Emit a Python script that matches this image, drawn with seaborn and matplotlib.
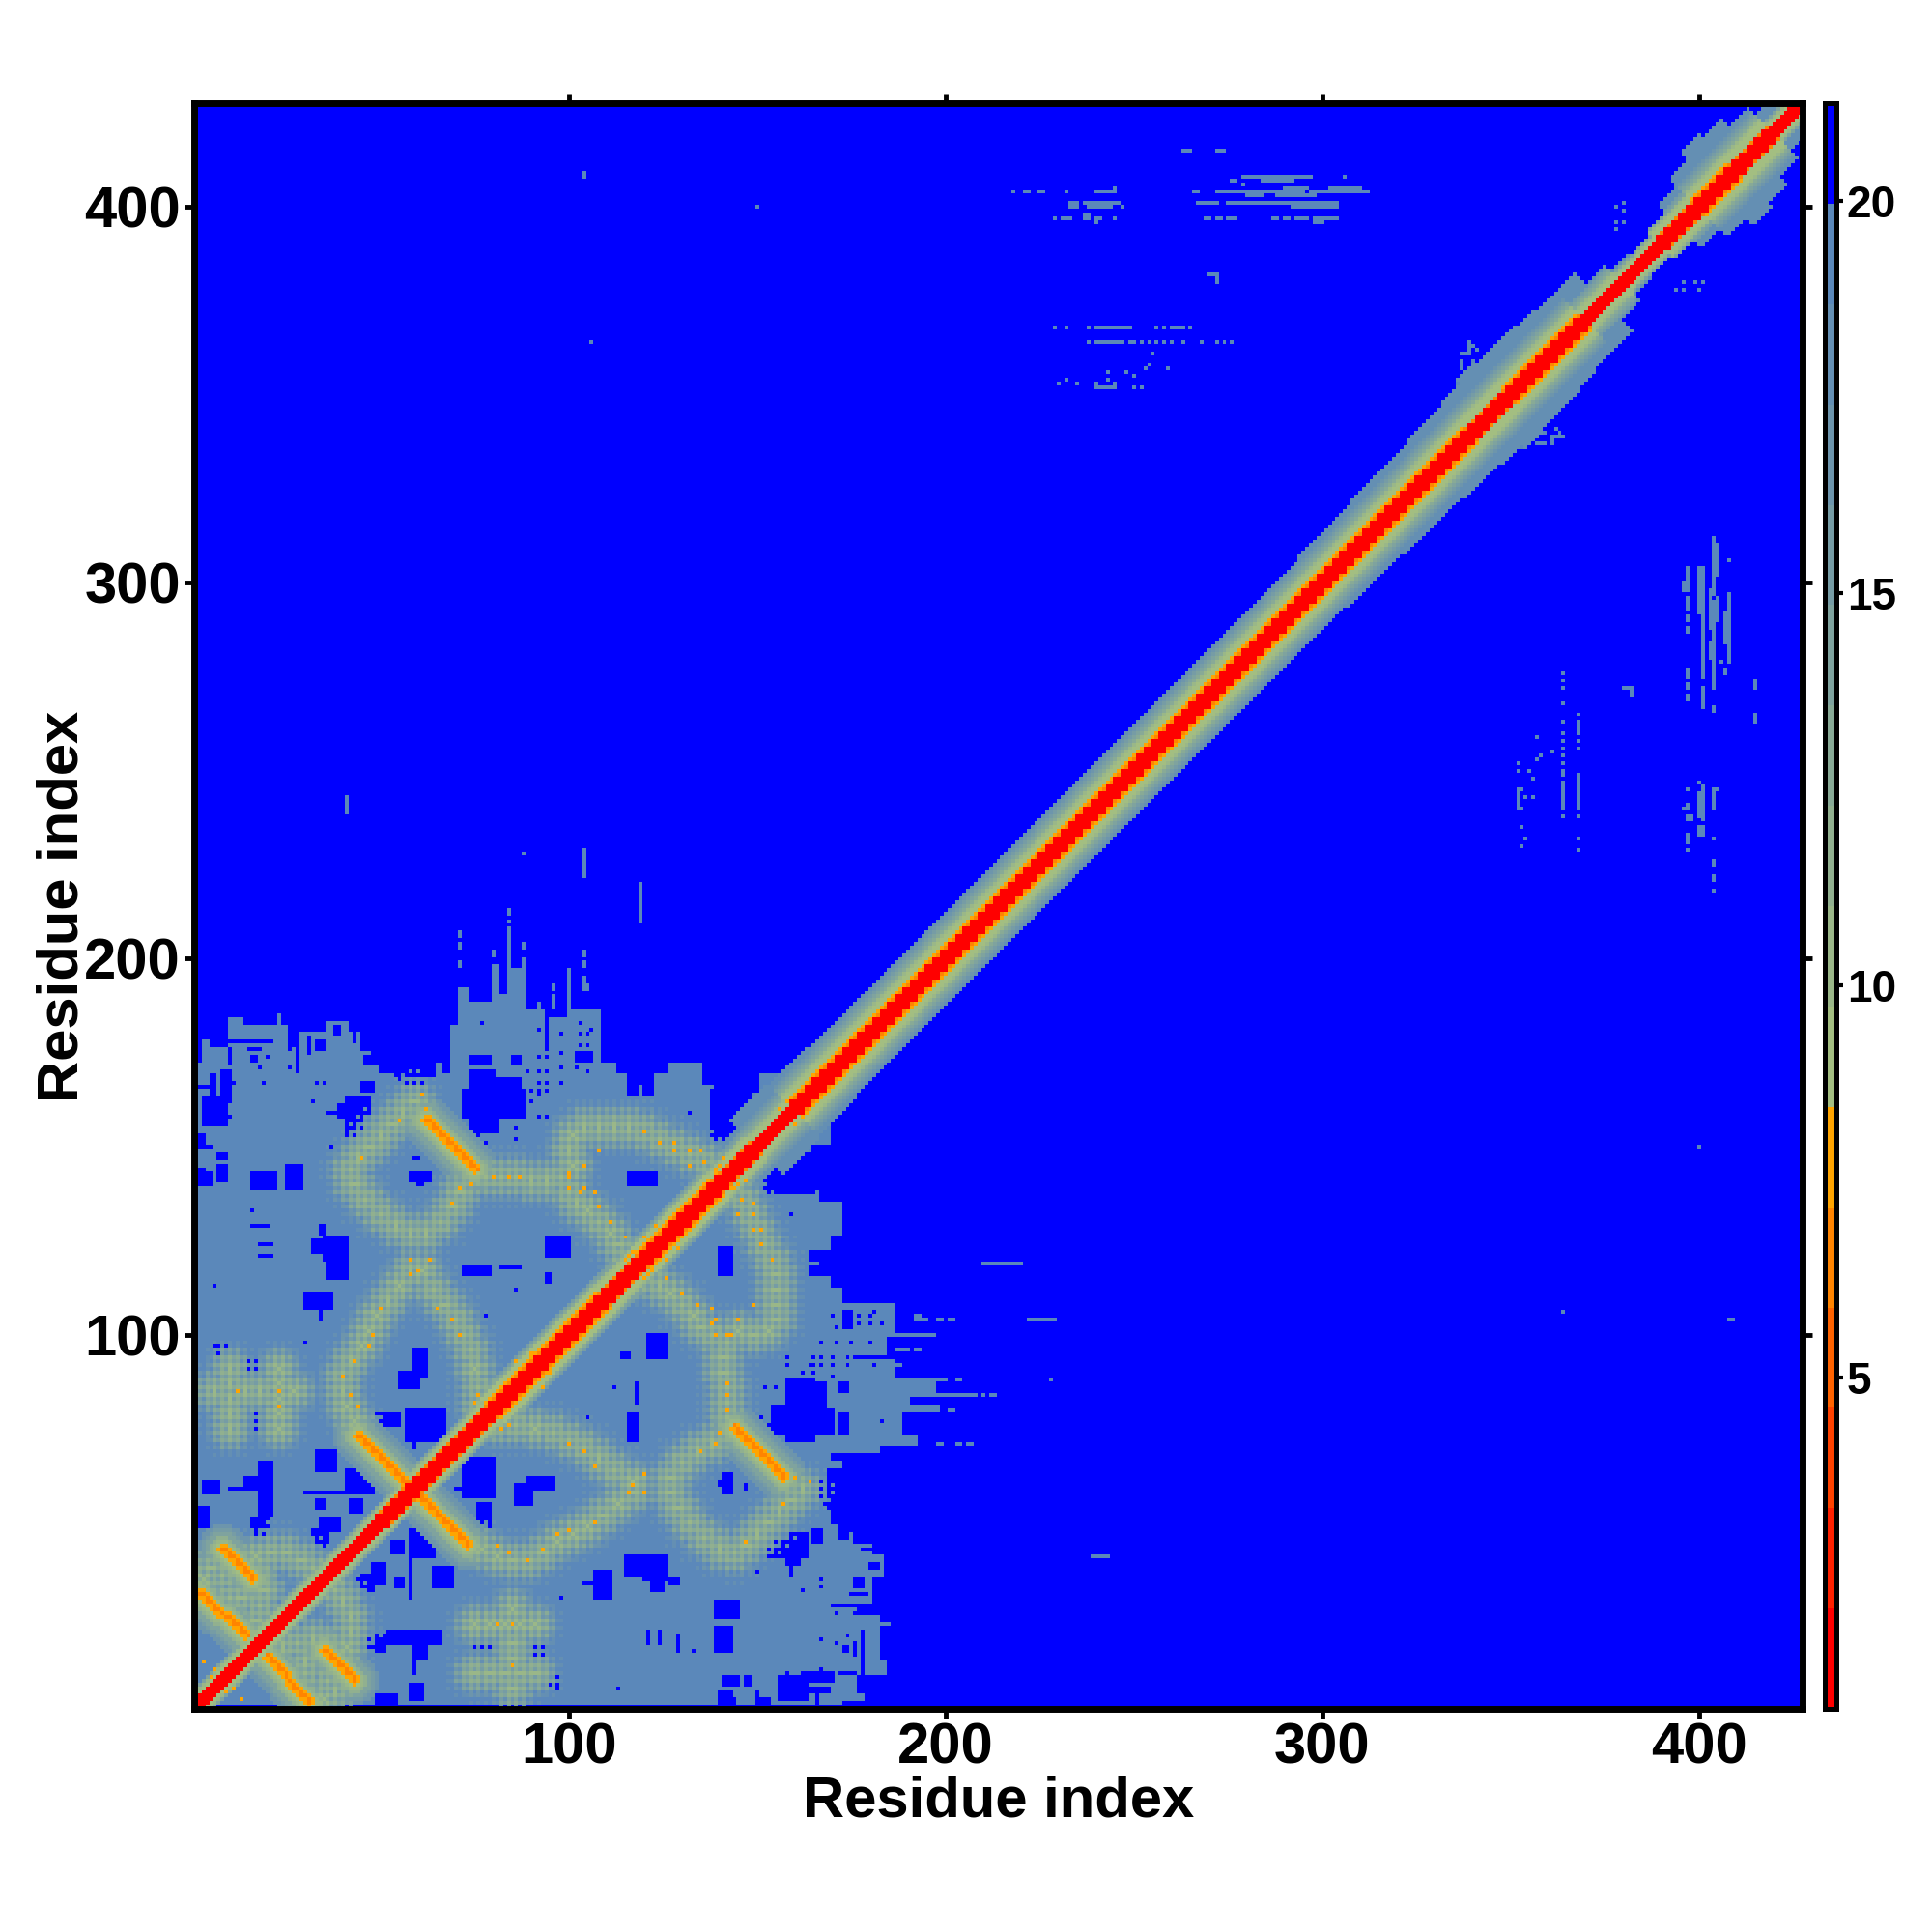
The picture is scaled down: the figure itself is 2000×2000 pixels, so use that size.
import numpy as np
import matplotlib
matplotlib.use('Agg')
import matplotlib.pyplot as plt
from matplotlib.colors import ListedColormap
import seaborn as sns

# --- map values, residues as (x, y) with x < y, mirrored later ---
N_RES = 427
X_TICKS = [100, 200, 300, 400]
CBAR_TICKS = [5, 10, 15, 20]
D_MIN, D_MAX = 0.78, 21.24
NO_CONTACT = 21.0
FAR = 19.2

# top edge of the grey domain, one entry per run of columns
grey_start = [2, 3, 5, 10, 14, 23, 24, 26, 28, 36, 42, 45, 48, 53, 57, 61, 63, 69, 71, 74, 80, 82, 84, 85, 88, 89, 94, 100, 101, 109, 113, 116, 119, 120, 123, 127, 136, 139, 149, 151]
grey_top = [172, 178, 176, 184, 182, 185, 182, 181, 180, 183, 180, 175, 171, 169, 165, 166, 172, 182, 192, 188, 198, 190, 208, 197, 200, 186, 184, 196, 186, 172, 169, 163, 166, 163, 169, 172, 166, 161, 164, 169]

# blue holes in the grey domain
hole_x1 = [74, 72, 80, 75, 74, 138, 2, 3, 5, 8, 2, 16, 25, 7, 7, 2, 4, 2, 2, 42, 45, 45, 36, 39, 36, 36, 59, 58, 60, 10, 14, 15, 16, 10, 28, 26, 31, 33, 38, 43, 46, 50, 54, 116, 16, 18, 18, 35, 32, 36, 34, 30, 34, 6, 15, 17, 16, 16, 25, 5, 59, 55, 49, 57, 59, 18, 14, 10, 3, 2, 16, 32, 33, 41, 30, 33, 42, 34, 32, 72, 82, 94, 94, 86, 94, 102, 85, 74, 62, 67, 41]
hole_x2 = [80, 88, 87, 81, 76, 148, 4, 9, 6, 10, 3, 22, 29, 9, 9, 3, 5, 5, 3, 44, 47, 48, 38, 41, 38, 38, 60, 63, 61, 13, 21, 18, 17, 10, 28, 28, 31, 35, 39, 43, 48, 52, 55, 123, 20, 21, 21, 41, 34, 41, 35, 37, 34, 9, 22, 22, 22, 21, 27, 9, 62, 60, 55, 67, 59, 21, 18, 13, 7, 4, 20, 40, 38, 48, 47, 35, 45, 39, 36, 79, 87, 95, 100, 86, 94, 106, 87, 79, 64, 68, 46]
hole_y1 = [154, 158, 166, 154, 151, 152, 166, 156, 163, 163, 140, 139, 139, 141, 147, 140, 140, 150, 151, 153, 158, 165, 159, 158, 150, 148, 147, 141, 140, 178, 178, 176, 173, 172, 170, 177, 175, 176, 180, 178, 172, 170, 168, 140, 129, 124, 121, 120, 122, 115, 127, 107, 104, 88, 88, 86, 80, 75, 73, 76, 89, 86, 76, 72, 70, 52, 59, 59, 58, 49, 46, 58, 64, 58, 58, 54, 53, 48, 44, 116, 118, 114, 121, 112, 176, 173, 172, 172, 169, 170, 153]
hole_y2 = [170, 165, 168, 158, 154, 165, 166, 163, 169, 170, 144, 143, 145, 145, 148, 144, 143, 150, 153, 163, 163, 167, 159, 161, 150, 148, 147, 143, 140, 178, 178, 176, 174, 176, 183, 182, 179, 178, 182, 181, 174, 171, 171, 143, 129, 124, 121, 126, 125, 119, 129, 111, 106, 97, 93, 86, 82, 79, 77, 76, 96, 90, 79, 80, 72, 66, 62, 59, 61, 54, 51, 58, 69, 64, 58, 56, 56, 51, 48, 118, 118, 116, 126, 112, 184, 175, 174, 174, 172, 175, 163]
hole_dot_x = [92, 94, 92, 94, 89, 92, 94, 90, 92, 94, 90, 92, 92, 94, 99, 98, 98, 98, 98, 103, 103, 105, 106, 103, 105, 102, 105, 92, 77, 86, 86, 78, 132, 20, 18, 26, 26, 11, 19, 33, 35, 10, 10, 32, 30, 78, 16, 6]
hole_dot_y = [174, 174, 170, 170, 170, 167, 167, 165, 165, 165, 162, 164, 158, 158, 158, 180, 175, 171, 167, 183, 180, 180, 181, 177, 177, 171, 170, 181, 183, 155, 152, 151, 159, 174, 171, 176, 171, 167, 167, 167, 167, 162, 158, 162, 98, 105, 133, 113]

# antiparallel strands: start cell and length, running x up / y down
strand_x = [62, 44, 8, 2, 9]
strand_y = [157, 73, 43, 31, 25]
strand_len = [14, 14, 9, 6, 6]

# arcs of weak contacts (green halo points)
arc_x = [43, 41, 40, 40, 42, 45, 47, 49, 52, 55, 58, 61, 64, 67, 70, 72, 74, 75, 76, 76,
         42, 44, 47, 50, 53, 56, 59, 43, 46, 50, 54, 58, 62, 66, 69, 71, 74, 78, 82, 86, 90, 94, 98,
         101, 100, 101, 104, 108, 112, 116, 120, 124, 128, 132, 136, 140,
         100, 102, 105, 108, 111, 113, 115,
         10, 10, 10, 10, 10, 23, 23, 23, 23, 23, 6, 14, 18, 27,
         17, 21, 25, 29, 33, 18, 19, 18, 17, 5, 3, 4, 10, 13, 8]
arc_y = [77, 81, 85, 89, 93, 97, 101, 105, 109, 113, 117, 117, 112, 108, 104, 100, 96, 91, 86, 81,
         144, 147, 150, 153, 156, 159, 162, 140, 136, 132, 129, 127, 127, 130, 134, 138, 142, 142, 142, 142, 141, 141, 142,
         145, 149, 153, 155, 155, 155, 155, 154, 152, 150, 148, 146, 144,
         138, 135, 133, 130, 127, 124, 120,
         75, 79, 83, 87, 91, 75, 79, 83, 87, 91, 85, 85, 85, 85,
         41, 42, 42, 40, 37, 36, 32, 28, 24, 38, 35, 31, 30, 30, 36]

# single orange contacts
hot_x = [61, 62, 55, 45, 80, 84, 87, 74, 71, 69, 100, 100, 100, 104, 103, 107, 108, 120, 124, 128, 128, 132, 135, 132, 136, 139,
         65, 69, 71, 50, 48, 47, 43, 40, 42, 44, 58, 58, 63, 60, 104, 108, 111, 115, 120,
         12, 23, 23, 3, 5, 6, 115, 116, 117, 120, 123, 140, 141, 139, 156, 86, 90, 75, 76]
hot_y = [164, 160, 157, 147, 142, 142, 142, 140, 139, 135, 143, 142, 139, 145, 138, 138, 149, 154, 151, 151, 149, 149, 149, 145, 146, 144,
         107, 104, 100, 107, 100, 97, 93, 89, 84, 81, 116, 120, 120, 117, 139, 134, 130, 126, 126,
         85, 85, 81, 13, 9, 11, 120, 121, 122, 126, 129, 145, 147, 143, 160, 93, 95, 82, 84]

# short runs of isolated far contacts: column, lowest and highest row
spot_x = [404, 404, 405, 405, 404, 403, 403, 401, 401, 401, 401, 400, 397, 396, 397, 397, 397, 397, 397, 397, 408, 408, 407, 407, 406, 408, 415, 415, 380, 381, 382,
          364, 364, 364, 364, 364, 364, 364, 364, 364, 364, 364, 364, 364,
          368, 368, 368, 368, 368, 368, 368, 368, 368,
          352, 353, 353, 354, 352, 352, 355, 357, 358, 361, 357, 356, 356, 353, 354, 353,
          401, 400, 404, 405, 397, 396, 397, 398, 397, 400, 400, 401, 397, 397, 397, 404, 404, 404, 404,
          104, 150, 106, 41, 88, 104, 119, 225, 242, 394, 396, 400, 380, 380, 380,
          336, 337, 338, 339, 340, 341, 342, 343, 344, 337, 339, 341, 350, 352, 355, 358, 361, 363,
          84, 84, 71, 71, 71, 80, 88, 104, 104, 104, 104, 105, 100, 100, 100, 100, 96, 96, 96, 92]
spot_lo = [297, 272, 302, 290, 266, 288, 280, 297, 286, 275, 267, 292, 298, 298, 293, 290, 287, 275, 272, 269, 289, 279, 284, 276, 279, 306, 272, 263, 272, 272, 270,
           276, 274, 272, 268, 263, 260, 258, 256, 254, 252, 249, 240, 238,
           265, 260, 258, 256, 249, 240, 238, 232, 229,
           240, 240, 245, 243, 252, 250, 250, 253, 254, 255, 259, 248, 243, 235, 232, 230,
           237, 238, 240, 245, 240, 240, 237, 237, 245, 247, 233, 233, 232, 231, 229, 232, 225, 221, 218,
           408, 400, 364, 239, 228, 222, 210, 104, 41, 378, 378, 378, 396, 399, 401,
           352, 357, 352, 361, 358, 355, 352, 354, 358, 350, 363, 362, 336, 340, 338, 341, 337, 339,
           210, 212, 203, 206, 198, 201, 203, 201, 198, 194, 192, 192, 196, 194, 192, 190, 192, 189, 187, 187]
spot_hi = [312, 295, 310, 296, 267, 298, 284, 304, 296, 285, 272, 304, 304, 300, 296, 291, 288, 277, 273, 270, 297, 288, 292, 277, 279, 306, 274, 265, 272, 272, 272,
           276, 274, 272, 268, 263, 260, 258, 256, 254, 252, 250, 247, 238,
           265, 263, 258, 256, 249, 248, 238, 232, 229,
           245, 240, 245, 243, 252, 250, 250, 253, 254, 255, 259, 248, 243, 235, 232, 230,
           246, 244, 245, 245, 241, 240, 238, 238, 245, 247, 235, 235, 233, 231, 229, 232, 226, 222, 218,
           409, 400, 364, 243, 228, 229, 220, 104, 41, 378, 378, 378, 396, 399, 401,
           354, 359, 353, 363, 359, 357, 353, 356, 359, 351, 364, 362, 338, 342, 339, 343, 338, 340,
           210, 213, 204, 207, 199, 202, 204, 202, 199, 195, 193, 193, 197, 194, 192, 190, 193, 190, 188, 188]

# main diagonal: warm and green limits per 10 residues, outer edge per 5 residues
band_warm = [2, 2, 2, 2, 2, 3, 3, 3, 4, 4, 4, 3, 4, 4, 3, 2, 4, 4, 4, 4, 4, 4, 4, 4, 4, 4, 4, 4, 4, 4, 4, 4, 4, 4, 3, 4, 4, 2, 2, 3, 4, 3, 2]
band_halo = [5, 5, 5, 5, 5, 5, 6, 6, 8, 8, 8, 8, 8, 8, 8, 9, 11, 11, 11, 11, 11, 11, 11, 11, 11, 11, 11, 11, 11, 11, 11, 11, 11, 11, 11, 11, 11, 8, 5, 8, 11, 11, 5]
band_edge = [5, 5, 5, 5, 5, 5, 5, 5, 5, 5, 5, 5, 6, 6, 6, 6, 8, 8, 8, 8, 8, 8, 8, 8, 8, 8, 8, 8, 10, 10,
             14, 14, 13, 13, 12, 12, 12, 12, 12, 12, 12, 12, 12, 12, 12, 12, 12, 12, 12, 12, 12, 12, 12, 12, 12, 12, 12, 12, 12, 12,
             13, 13, 13, 14, 14, 14, 15, 15, 16, 18, 17, 17, 16, 15, 15, 9, 6, 5, 7, 11, 15, 19, 17, 13, 9, 4]
band_red = [1.2, 1.2, 1.6]
band_third = [1.6, 6.8]
band_orange = 7.4
band_green = [9.0, 9.6, 11.0, 12.4, 13.8, 15.2, 16.8]
band_outer = 18.2
halo_rings = [10.2, 10.6, 11.2, 12.2, 13.4, 14.8, 16.2, 17.8, 18.6]
halo_plaid = [0.0, 2.2]
strand_core = [6.4, 7.6]
strand_rings = [8.0, 9.0, 10.2, 11.8, 13.6, 15.4, 17.4]

# palette of the colour key, red end to blue end
warm_colors = ["#FF0000", "#FF2100", "#FF4200", "#FF6300", "#FF8400", "#FFA500"]
cool_ends = ["#A3BE81", "#5B88BA"]


def put(mat, x, y, val):
    if 1 <= x <= N_RES and 1 <= y <= N_RES:
        mat[y - 1, x - 1] = min(mat[y - 1, x - 1], val)


def stamp(mat, x0, y0, rings, plaid=None):
    r_max = len(rings) - 1
    for x in range(x0 - r_max, x0 + r_max + 1):
        for y in range(y0 - r_max, y0 + r_max + 1):
            r = int(round(np.hypot(x - x0, y - y0)))
            if r > r_max:
                continue
            val = rings[r]
            if plaid is not None and r > 0:
                val = val + plaid[x % 2] + plaid[y % 2]
            if val < FAR:
                put(mat, x, y, val)


dist = np.full((N_RES, N_RES), NO_CONTACT)

# 1. Grey domain
for k, start in enumerate(grey_start):
    end = grey_start[k + 1] if k + 1 < len(grey_start) else 160
    for x in range(start, end):
        dist[x:grey_top[k], x - 1] = FAR

# 2. Holes
for x1, x2, y1, y2 in zip(hole_x1, hole_x2, hole_y1, hole_y2):
    dist[y1 - 1:y2, x1 - 1:x2] = NO_CONTACT
for x, y in zip(hole_dot_x, hole_dot_y):
    dist[y - 1, x - 1] = NO_CONTACT
dist[2:, 0] = NO_CONTACT

# 3. Far contacts
for x, lo, hi in zip(spot_x, spot_lo, spot_hi):
    dist[lo - 1:hi, x - 1] = FAR

# 4. Weak arcs, orange dots, strands
for x, y in zip(arc_x, arc_y):
    stamp(dist, x, y, halo_rings, halo_plaid)
for x, y in zip(hot_x, hot_y):
    put(dist, x, y, 7.6)
for x0, y0, n in zip(strand_x, strand_y, strand_len):
    for k in range(n):
        stamp(dist, x0 + k, y0 - k, strand_rings)
    for k in range(n):
        x, y = x0 + k, y0 - k
        put(dist, x, y, strand_core[k % 2])
        put(dist, x + 1, y, strand_core[(k + 1) % 2])
        put(dist, x, y + 1, strand_core[(k + 1) % 2])
        put(dist, x + 1, y + 1, strand_core[1])
        put(dist, x - 1, y, strand_core[1])
        put(dist, x, y - 1, strand_core[1])

dist = np.minimum(dist, dist.T)

# 5. Diagonal band
for i in range(N_RES):
    for off in range(0, 25):
        j = i + off
        if j >= N_RES:
            break
        block = min((i + j + 2) // 20, len(band_warm) - 1)
        warm, halo = band_warm[block], band_halo[block]
        edge = band_edge[min((i + j + 2) // 10, len(band_edge) - 1)]
        if off > edge:
            continue
        if off < len(band_red):
            val = band_red[off]
        elif off <= warm:
            val = band_third[i % 2] if off == 3 else band_orange
        elif off <= halo:
            pos = (off - warm - 1) * len(band_green) // max(halo - warm, 1)
            val = band_green[pos]
        else:
            val = band_outer
        dist[j, i] = min(dist[j, i], val)
        dist[i, j] = min(dist[i, j], val)

# --- Plot ---
sns.set_theme(style='white')
plt.rcParams['font.family'] = ['Liberation Sans', 'DejaVu Sans']
plt.rcParams['font.weight'] = 'bold'
plt.rcParams['text.color'] = 'black'
plt.rcParams['axes.labelcolor'] = 'black'
plt.rcParams['xtick.color'] = 'black'
plt.rcParams['ytick.color'] = 'black'

palette = warm_colors + sns.blend_palette(cool_ends, 9).as_hex() + ['#0000FF']
cmap = ListedColormap(palette)

fig = plt.figure(figsize=(20, 20), dpi=100)
ax = fig.add_axes([0.1005, 0.1155, 0.8325, 0.831])
cax = fig.add_axes([0.9447, 0.1155, 0.0056, 0.831])

sns.heatmap(dist, ax=ax, cbar_ax=cax, cmap=cmap, vmin=D_MIN, vmax=D_MAX,
            xticklabels=False, yticklabels=False, square=False,
            cbar_kws={'ticks': CBAR_TICKS})
ax.invert_yaxis()

tick_pos = [t - 0.5 for t in X_TICKS]
ax.set_xticks(tick_pos)
ax.set_xticklabels(X_TICKS, fontsize=43, fontweight='bold')
ax.set_yticks(tick_pos)
ax.set_yticklabels(X_TICKS, fontsize=43, fontweight='bold')
ax.tick_params(axis='both', which='both', length=7, width=3.5, color='black',
               labelcolor='black', top=True, right=True, bottom=True, left=True, pad=3)
ax.set_xlabel('Residue index', fontsize=43, fontweight='bold', labelpad=0)
ax.set_ylabel('Residue index', fontsize=43, fontweight='bold', labelpad=-4)
for side in ax.spines.values():
    side.set_visible(True)
    side.set_linewidth(5)
    side.set_color('black')

cbar = ax.collections[0].colorbar
cbar.ax.tick_params(length=5, width=3, color='black', labelcolor='black', labelsize=33, pad=3, right=True)
for lab in cbar.ax.get_yticklabels():
    lab.set_fontweight('bold')
cbar.outline.set_visible(True)
cbar.outline.set_linewidth(3.6)
cbar.outline.set_edgecolor('black')

fig.savefig('out.png', dpi=100, facecolor='white')
